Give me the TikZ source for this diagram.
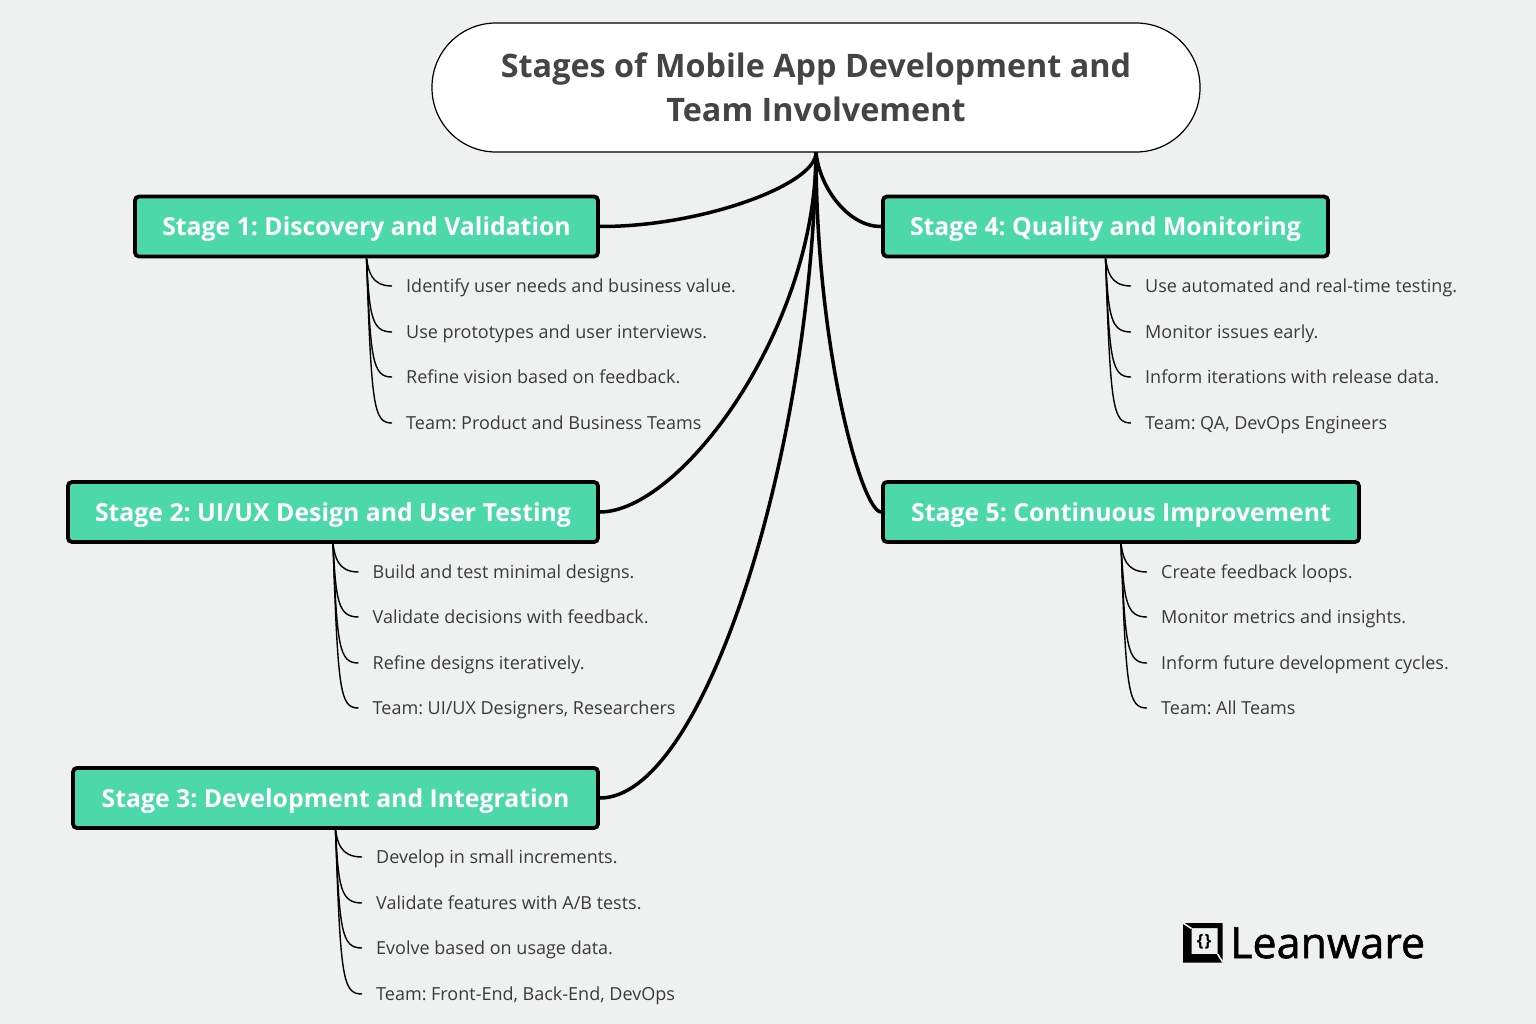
\documentclass[tikz,border=0pt]{standalone}
\usepackage{fontspec}
\setmainfont{Open Sans}
\newfontfamily\logofont[FakeBold=1.2]{Open Sans}
\definecolor{bgc}{HTML}{EFF1F0}
\definecolor{teal}{HTML}{4DD8A9}
\definecolor{ink}{HTML}{3A3A3A}
\definecolor{titleink}{HTML}{444444}
\tikzset{
 rootbox/.style={draw=black,line width=1.2pt,fill=white,rounded corners=64pt,minimum width=768pt,minimum height=129pt,inner sep=0pt,align=center,text=titleink,font=\frenchspacing\fontsize{32.35}{44}\selectfont\bfseries},
 stagebox/.style={draw=black,line width=3.8pt,fill=teal,rounded corners=4pt,minimum height=60pt,inner sep=0pt,text=white,text height=19pt,text depth=0pt,font=\frenchspacing\fontsize{24.8}{30}\selectfont\bfseries},
 itemtext/.style={anchor=west,inner xsep=14pt,inner ysep=0pt,text=ink,text height=15pt,text depth=2pt,font=\frenchspacing\fontsize{18}{24}\selectfont},
 mainlink/.style={line width=3.5pt,draw=black},
 sublink/.style={line width=1.4pt,draw=black},
}
\begin{document}
\begin{tikzpicture}[x=1pt,y=-1pt]
\useasboundingbox (0,0) rectangle (1536,1024);
\fill[bgc] (0,0) rectangle (1536,1024);
\node[rootbox] (root) at (816,87.5) {Stages of Mobile App Development and\\Team Involvement};
\node[stagebox,minimum width=463pt] (s1) at (366.5,226.5) {Stage 1: Discovery and Validation};
\node[stagebox,minimum width=530pt] (s2) at (333,512) {Stage 2: UI/UX Design and User Testing};
\node[stagebox,minimum width=525pt] (s3) at (335.5,798) {Stage 3: Development and Integration};
\node[stagebox,minimum width=445pt] (s4) at (1105.5,226.5) {Stage 4: Quality and Monitoring};
\node[stagebox,minimum width=476pt] (s5) at (1121,512) {Stage 5: Continuous Improvement};
\draw[mainlink] (root.south) .. controls (816,185) and (700,227) .. (s1.east);
\draw[mainlink] (root.south) .. controls (816,330) and (680,512) .. (s2.east);
\draw[mainlink] (root.south) .. controls (812,450) and (705,798) .. (s3.east);
\draw[mainlink] (root.south) .. controls (820,190) and (850,227) .. (s4.west);
\draw[mainlink] (root.south) .. controls (816,350) and (862,512) .. (s5.west);
% items
\node[itemtext] (a1) at (392,286) {Identify user needs and business value.};
\node[itemtext] (a2) at (392,332) {Use prototypes and user interviews.};
\node[itemtext] (a3) at (392,377) {Refine vision based on feedback.};
\node[itemtext] (a4) at (392,423) {Team: Product and Business Teams};
\node[itemtext] (b1) at (358.5,572) {Build and test minimal designs.};
\node[itemtext] (b2) at (358.5,617) {Validate decisions with feedback.};
\node[itemtext] (b3) at (358.5,663) {Refine designs iteratively.};
\node[itemtext] (b4) at (358.5,708) {Team: UI/UX Designers, Researchers};
\node[itemtext] (c1) at (362,857) {Develop in small increments.};
\node[itemtext] (c2) at (362,903) {Validate features with A/B tests.};
\node[itemtext] (c3) at (362,948) {Evolve based on usage data.};
\node[itemtext] (c4) at (362,994) {Team: Front-End, Back-End, DevOps};
\node[itemtext] (d1) at (1131,286) {Use automated and real-time testing.};
\node[itemtext] (d2) at (1131,332) {Monitor issues early.};
\node[itemtext] (d3) at (1131,377) {Inform iterations with release data.};
\node[itemtext] (d4) at (1131,423) {Team: QA, DevOps Engineers};
\node[itemtext] (e1) at (1147,572) {Create feedback loops.};
\node[itemtext] (e2) at (1147,617) {Monitor metrics and insights.};
\node[itemtext] (e3) at (1147,663) {Inform future development cycles.};
\node[itemtext] (e4) at (1147,708) {Team: All Teams};
\foreach \s/\p in {s1/a,s2/b,s3/c,s4/d,s5/e}{
 \foreach \i in {1,2,3,4}{
  \draw[sublink] (\s.south) .. controls ([xshift=\i pt+1pt,yshift=16pt]\p\i.west -| \s.south) and ([xshift=\i pt+3pt]\p\i.west -| \s.south) .. (\p\i.west);
 }
}
% logo
\fill[black,even odd rule] (1183,923) rectangle (1222.5,962.5) (1191.5,928) rectangle (1217.5,954);
\draw[bgc,line width=1.6pt] (1183,923) -- (1191.5,928.5);
\draw[bgc,line width=1.6pt] (1217.5,954) -- (1223,962.5);
\node[inner sep=0pt,font=\fontsize{17}{17}\selectfont\bfseries,text=black] (icon) at (1204,942) {\{\hspace{1pt}\}};
\node[anchor=west,inner sep=0pt,text=black,font=\logofont\fontsize{43}{42}\selectfont] (logo) at (1230,943) {Leanware};
\end{tikzpicture}
\end{document}
